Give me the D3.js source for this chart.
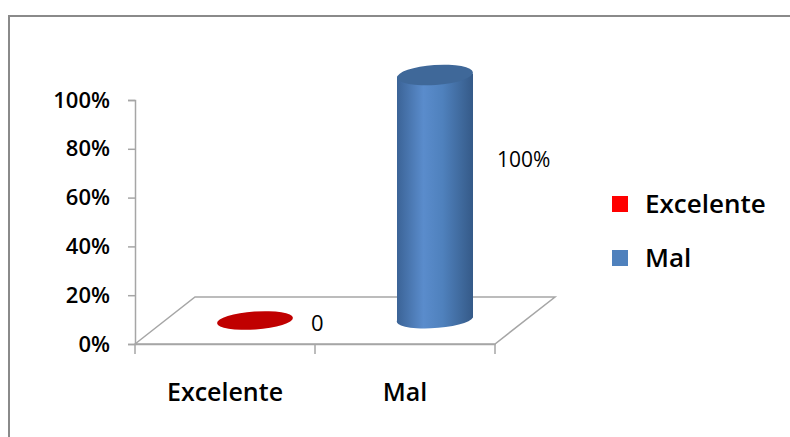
<!DOCTYPE html>
<html>
<head>
<meta charset="utf-8">
<script src="https://cdn.jsdelivr.net/npm/d3@7"></script>
<style>
  body { margin: 0; background: #fff; }
  text { font-family: "Open Sans", "Liberation Sans", sans-serif; font-weight: 600; fill: #000; }
</style>
</head>
<body>
<div id="chart"></div>
<script>
var categories = ["Excelente", "Mal"];
var values = [0, 1];
var valueLabels = ["0", "100%"];
var colors = ["#c00000", "#4f81bd"];
var legendColors = ["#ff0000", "#4f81bd"];
var yTicks = [0, 0.2, 0.4, 0.6, 0.8, 1];

var svg = d3.select("#chart")
    .append("svg")
    .attr("width", 790)
    .attr("height", 437);

// outer frame
svg.append("path")
    .attr("d", "M9,437V16H790")
    .attr("fill", "none")
    .attr("stroke", "#8a8a8a")
    .attr("stroke-width", 2);

var x = d3.scaleBand().domain(categories).range([135, 495]);
var y = d3.scaleLinear().domain([0, 1]).range([344, 100]);
var depth = { dx: 60, dy: -47 };

var axisColor = "#a6a6a6";

// floor
svg.append("path")
    .attr("d", "M" + x.range()[0] + "," + y(0) +
        "L" + (x.range()[0] + depth.dx) + "," + (y(0) + depth.dy) +
        "L" + (x.range()[1] + depth.dx) + "," + (y(0) + depth.dy) +
        "L" + x.range()[1] + "," + y(0) + "Z")
    .attr("fill", "none")
    .attr("stroke", axisColor)
    .attr("stroke-width", 1.5);

// y axis
var yAxis = d3.axisLeft(y).tickValues(yTicks).tickFormat(d3.format(".0%")).tickSize(7).tickPadding(18);
var gy = svg.append("g").attr("transform", "translate(135,0)").call(yAxis);
gy.select(".domain").attr("stroke", axisColor).attr("stroke-width", 1.5);
gy.selectAll(".tick line").attr("stroke", axisColor).attr("stroke-width", 1.5);
gy.selectAll(".tick text")
    .style("font-family", "'Open Sans', sans-serif")
    .style("font-weight", 600)
    .attr("font-size", 22)
    .attr("fill", "#000");

// x axis
var xAxis = d3.axisBottom(x).tickSize(0).tickPadding(39);
var gx = svg.append("g").attr("transform", "translate(0," + y(0) + ")").call(xAxis);
gx.select(".domain").attr("stroke", axisColor).attr("stroke-width", 1.5);
gx.selectAll(".tick text")
    .style("font-family", "'Open Sans', sans-serif")
    .style("font-weight", 600)
    .attr("font-size", 25)
    .attr("fill", "#000");
// category separator ticks
var bounds = [x.range()[0]].concat(categories.map(function(c) { return x(c) + x.bandwidth(); }));
svg.selectAll(".sep").data(bounds).enter().append("line")
    .attr("x1", function(d) { return d; })
    .attr("x2", function(d) { return d; })
    .attr("y1", y(0))
    .attr("y2", y(0) + 10)
    .attr("stroke", axisColor)
    .attr("stroke-width", 1.5);

// cylinders
var defs = svg.append("defs");
var grad = defs.append("linearGradient").attr("id", "cyl").attr("x1", "0").attr("x2", "1");
grad.append("stop").attr("offset", "0%").attr("stop-color", "#3b6396");
grad.append("stop").attr("offset", "35%").attr("stop-color", "#5a8ccc");
grad.append("stop").attr("offset", "60%").attr("stop-color", "#4f81bd");
grad.append("stop").attr("offset", "100%").attr("stop-color", "#355a88");

var rx = 38, ry = 9, tilt = -4;

categories.forEach(function(c, i) {
    var cx = x(c) + x.bandwidth() / 2 + depth.dx / 2;
    var yb = y(0) + depth.dy / 2;
    var yt = y(values[i]) + depth.dy / 2;
    var g = svg.append("g");
    if (values[i] > 0) {
        g.append("path")
            .attr("d", "M" + (cx - rx) + "," + yt + "V" + yb +
                "A" + rx + "," + ry + " " + tilt + " 0 0 " + (cx + rx) + "," + (yb - 3) +
                "V" + (yt - 3) + "Z")
            .attr("fill", "url(#cyl)");
        g.append("ellipse")
            .attr("cx", cx).attr("cy", yt - 1.5)
            .attr("rx", rx).attr("ry", ry + 1)
            .attr("transform", "rotate(" + tilt + "," + cx + "," + (yt - 1.5) + ")")
            .attr("fill", "#3f6899");
    } else {
        g.append("ellipse")
            .attr("cx", cx).attr("cy", yb)
            .attr("rx", rx).attr("ry", ry)
            .attr("transform", "rotate(" + tilt + "," + cx + "," + yb + ")")
            .attr("fill", colors[i]);
    }
});

// value labels
svg.append("text")
    .attr("x", x(categories[0]) + x.bandwidth() / 2 + depth.dx / 2 + 56)
    .attr("y", y(0) + depth.dy / 2 + 10)
    .attr("font-size", 22)
    .style("font-weight", 400)
    .text(valueLabels[0]);
svg.append("text")
    .attr("x", x(categories[1]) + x.bandwidth() / 2 + depth.dx / 2 + 62)
    .attr("y", 167)
    .attr("font-size", 21)
    .style("font-weight", 400)
    .text(valueLabels[1]);

// legend
var legend = svg.selectAll(".legend").data(categories).enter().append("g")
    .attr("transform", function(d, i) { return "translate(612," + (196 + i * 54) + ")"; });
legend.append("rect")
    .attr("width", 16).attr("height", 16)
    .attr("fill", function(d, i) { return legendColors[i]; });
legend.append("text")
    .attr("x", 33).attr("y", 17)
    .attr("font-size", 26)
    .text(function(d) { return d; });
</script>
</body>
</html>
